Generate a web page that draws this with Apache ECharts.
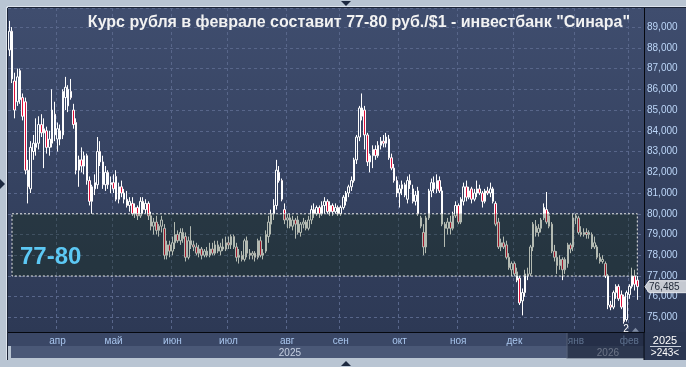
<!DOCTYPE html>
<html><head><meta charset="utf-8">
<script src="https://cdn.jsdelivr.net/npm/echarts@6/dist/echarts.min.js"></script>
<style>html,body{margin:0;padding:0;background:#b9c5d3}#c{width:686px;height:367px}</style>
</head><body><div id="c"></div>
<script>
const titleText = 'Курс рубля в феврале составит 77-80 руб./$1 - инвестбанк "Синара"';
const barCount = 238;
const monthLabels = ['апр','май','июн','июл','авг','сен','окт','ноя','дек','янв','фев'];
const monthStartIdx = [18,39,61,82,104,124,146,168,189,212,232];
const yearLabels = ['2025','2026'];
const yearLabelIdx = [105,224];
const year2026StartIdx = 209;
const zoneLow = 77, zoneHigh = 80, zoneLabel = '77-80';
const zoneStartIdx = 1, zoneEndIdx = 235;
const lastPrice = 76.485;
const lowMarkIdx = 230, lowMarkText = '2';
const cornerYear = '2025', cornerCount = '>243<';

const opens = [87.9,88.8,86.4,85.4,86.9,85.6,85.4,82.1,81.2,83.0,83.2,83.4,84.3,83.9,84.0,83.2,83.4,84.8,83.6,84.0,
83.8,85.6,85.2,85.9,85.0,84.4,82.1,82.6,82.3,82.8,81.6,80.6,81.2,81.4,83.0,82.5,81.4,82.0,81.4,81.5,
81.8,80.7,81.3,81.0,80.7,80.4,80.5,80.0,80.3,79.9,80.6,80.2,80.5,79.9,79.4,79.6,79.2,79.4,79.3,78.0,
78.5,78.2,78.6,79.0,78.7,79.1,78.9,77.9,78.7,78.5,78.4,78.1,78.3,78.0,78.2,78.0,78.3,78.1,78.5,78.2,
78.4,78.3,78.6,78.5,78.9,78.4,77.9,78.0,77.8,78.7,78.1,78.0,78.1,77.9,78.7,78.0,78.2,78.9,79.5,80.0,
80.4,82.0,81.6,80.2,79.7,79.8,79.4,79.7,79.7,79.1,79.5,79.6,79.3,79.7,80.2,80.0,80.3,80.0,80.4,80.6,
80.1,80.4,80.1,80.3,80.0,80.3,80.6,81.0,81.3,81.6,82.6,83.7,84.7,85.0,83.8,82.5,82.8,83.1,82.8,83.3,
83.5,83.4,83.6,82.7,82.2,81.6,81.0,81.2,81.4,80.7,81.6,81.2,80.6,81.1,79.4,79.1,78.4,79.8,81.1,81.5,
81.2,81.6,81.1,79.5,79.3,79.6,79.3,79.9,80.4,79.6,80.6,81.3,80.8,81.2,80.7,81.0,81.2,81.0,80.6,81.1,
81.0,81.2,80.5,79.6,78.4,78.6,78.5,77.9,77.3,77.6,77.2,76.9,75.8,76.2,77.1,77.1,78.4,79.4,79.1,79.3,
79.8,80.2,79.9,79.5,78.2,77.9,77.5,77.8,77.3,77.6,78.5,78.4,79.8,79.8,79.1,79.0,79.1,79.0,79.0,78.4,
78.4,77.9,77.7,77.6,77.0,75.6,75.5,76.2,76.5,76.1,76.0,74.9,76.1,76.5,77.0,76.8];
const highs = [89.3,89.0,86.8,87.0,87.0,85.8,85.6,82.6,83.5,83.8,84.6,84.7,84.8,84.6,84.2,84.0,86.0,85.4,84.4,84.3,
86.0,86.6,86.2,86.5,85.3,84.6,82.8,83.2,83.0,82.9,81.8,81.4,81.9,83.7,83.5,82.8,82.3,82.1,81.8,81.9,
82.1,81.5,81.6,81.2,81.1,80.8,80.8,80.5,80.4,80.8,80.8,80.7,80.6,80.1,79.8,79.9,79.5,79.9,79.5,78.7,
78.7,78.9,79.6,79.2,79.3,79.3,79.1,78.9,79.4,78.7,78.6,78.5,78.4,78.3,78.4,78.6,78.6,78.7,78.7,78.6,
78.8,78.9,78.9,79.0,79.0,78.6,78.3,78.2,78.8,78.9,78.3,78.2,78.2,78.8,78.9,78.3,79.2,79.9,80.2,80.7,
82.6,82.3,81.7,80.5,80.0,80.0,79.9,79.8,79.9,79.6,79.8,79.7,79.9,80.4,80.5,80.4,80.4,80.6,80.8,80.7,
80.6,80.5,80.5,80.4,80.4,80.9,81.1,81.4,81.8,82.7,83.8,85.2,85.8,85.2,83.9,82.9,83.3,83.3,83.5,83.7,
83.8,83.9,83.8,82.9,82.4,81.8,81.4,81.6,81.5,81.8,81.9,81.4,81.1,81.3,79.9,79.5,79.9,81.2,81.7,81.8,
81.9,81.8,81.3,79.6,79.8,79.9,80.1,80.6,80.5,80.8,81.5,81.6,81.3,81.3,81.2,81.6,81.4,81.1,81.2,81.3,
81.5,81.3,80.6,79.8,78.8,78.9,78.7,78.1,77.7,77.7,77.4,77.0,76.4,77.3,77.4,78.5,79.6,79.7,79.5,79.8,
80.5,81.05,80.1,79.6,78.5,78.2,78.0,77.9,77.9,78.6,78.6,80.0,80.0,79.9,79.4,79.3,79.3,79.2,79.1,78.9,
78.5,78.1,78.0,77.7,77.1,75.8,76.3,76.6,76.6,76.3,76.1,76.3,76.6,77.4,77.3,77.0];
const lows = [87.6,86.3,84.6,85.2,85.3,84.5,81.9,80.5,81.0,82.6,82.8,83.1,83.7,82.2,82.9,82.8,83.2,83.5,83.0,83.3,
83.6,85.0,84.9,85.5,84.1,81.9,81.3,82.0,81.9,81.4,80.4,80.0,80.9,81.2,82.3,81.2,81.1,81.2,81.0,81.0,
80.6,80.5,80.8,80.5,80.3,80.1,79.9,79.8,79.7,79.8,80.0,80.0,79.7,79.2,79.0,79.0,78.9,79.1,77.8,77.8,
77.9,78.0,78.3,78.6,78.5,78.6,77.7,77.8,78.3,78.2,78.0,77.9,77.8,77.9,77.9,77.9,78.0,78.0,78.1,78.0,
78.2,78.2,78.3,78.3,78.3,77.7,77.6,77.7,77.7,77.9,77.8,77.8,77.7,77.8,77.9,77.8,78.1,78.6,79.0,79.7,
80.2,81.5,80.6,79.5,79.3,79.3,79.2,78.8,79.0,78.9,79.3,79.2,79.2,79.5,79.8,79.9,79.8,79.9,80.0,80.0,
79.9,79.9,80.0,79.9,79.9,80.2,80.4,80.8,81.1,81.5,82.4,83.5,84.5,83.1,82.3,82.0,82.2,82.6,82.7,83.1,
83.2,83.2,82.6,82.1,81.5,80.8,80.3,80.9,80.8,80.5,81.2,80.5,80.4,79.9,79.3,78.0,78.1,79.7,80.8,81.0,
81.0,81.0,79.4,78.4,79.0,79.0,79.2,79.8,79.5,79.5,80.4,80.6,80.7,80.5,80.6,80.8,80.9,80.3,80.5,80.9,
80.8,80.5,79.4,78.3,78.2,78.3,77.8,77.3,77.0,77.0,76.7,75.6,75.1,76.0,76.8,77.0,78.2,78.9,78.9,79.1,
79.7,79.5,79.3,78.1,77.7,77.1,77.3,76.8,77.1,77.4,78.1,78.2,79.5,79.0,78.9,78.9,78.8,78.8,78.3,78.3,
77.8,77.6,77.6,76.9,75.4,75.35,75.4,75.9,75.8,75.4,74.7,74.8,75.9,76.4,76.3,75.85];
const closes = [88.8,86.5,85.0,86.6,85.5,84.7,82.1,81.3,83.2,83.4,83.4,84.3,83.9,84.1,83.2,83.6,85.0,83.8,84.1,83.6,
85.9,86.1,86.0,85.6,84.3,82.1,82.6,82.3,82.8,81.6,80.6,81.3,81.5,83.0,82.5,81.4,82.0,81.4,81.5,81.2,
80.7,81.3,81.0,80.7,80.4,80.6,80.0,80.3,79.9,80.6,80.2,80.5,79.9,79.4,79.6,79.2,79.4,79.7,78.0,78.5,
78.2,78.6,79.0,78.7,79.1,78.8,77.9,78.7,78.5,78.4,78.1,78.3,78.0,78.2,78.0,78.3,78.1,78.5,78.2,78.4,
78.3,78.6,78.5,78.9,78.4,77.9,78.0,77.8,78.7,78.1,78.0,78.1,77.9,78.7,78.0,78.1,79.0,79.6,80.0,80.4,
82.1,81.6,80.7,79.7,79.8,79.4,79.7,79.5,79.1,79.5,79.6,79.3,79.7,80.2,80.0,80.3,80.0,80.4,80.6,80.1,
80.4,80.1,80.3,80.0,80.3,80.8,81.0,81.3,81.6,82.6,83.7,85.1,85.1,83.8,82.5,82.8,83.1,82.8,83.3,83.5,
83.4,83.7,82.7,82.2,81.6,81.0,81.2,81.4,80.9,81.6,81.4,80.6,80.9,80.0,79.8,78.4,79.8,81.1,81.5,81.2,
81.6,81.1,79.5,79.3,79.6,79.3,79.9,80.4,79.6,80.7,81.3,80.8,81.1,80.7,81.0,81.2,81.0,80.6,81.1,81.0,
81.2,80.6,79.5,78.4,78.6,78.4,77.9,77.4,77.6,77.1,76.8,75.7,76.2,77.1,77.0,78.4,79.5,79.1,79.3,79.7,
80.3,79.6,79.4,78.2,77.9,77.5,77.8,77.3,77.8,78.5,78.3,79.8,79.9,79.1,79.0,79.1,79.0,79.1,78.4,78.6,
77.9,77.7,77.8,77.0,75.6,75.5,76.2,76.5,75.9,75.5,74.8,76.2,76.5,77.0,76.6,76.485];

const fmt = v => v.toFixed(3).replace('.', ',');
const categories = Array.from({length: barCount}, (_, i) => String(i));
const ohlc = opens.map((o, i) => [o, closes[i], lows[i], highs[i]]);
const FONT = 'Liberation Sans';

const chart = echarts.init(document.getElementById('c'), null, {renderer: 'canvas'});
chart.setOption({
  animation: false,
  backgroundColor: '#b9c5d3',
  textStyle: {fontFamily: FONT},
  title: {text: titleText, right: 56, top: 15, padding: 0,
    textStyle: {color: '#f2f2f2', fontSize: 16, fontWeight: 'bold', fontFamily: FONT}},
  grid: {left: 8, right: 42, top: 8, bottom: 35, containLabel: false},
  xAxis: [{
    type: 'category', data: categories, boundaryGap: true,
    axisLine: {show: true, lineStyle: {color: '#05080f', width: 1}},
    axisTick: {show: false},
    axisLabel: {interval: (i) => monthStartIdx.includes(i),
      formatter: (v) => monthLabels[monthStartIdx.indexOf(Number(v))] || '',
      color: '#a9c6ee', fontSize: 10, margin: 4},
    splitLine: {show: true, interval: (i) => monthStartIdx.includes(i),
      lineStyle: {color: '#58668a', type: [3, 3], width: 1}}
  }, {
    type: 'category', data: categories, boundaryGap: true, position: 'bottom', offset: 14,
    axisLine: {show: false}, axisTick: {show: false}, splitLine: {show: false},
    axisLabel: {interval: (i) => yearLabelIdx.includes(i),
      formatter: (v) => yearLabels[yearLabelIdx.indexOf(Number(v))] || '',
      color: '#c6d0e2', fontSize: 10, margin: 2}
  }],
  yAxis: {
    type: 'value', position: 'right', min: 74.3, max: 89.92, splitNumber: 15, scale: true,
    axisLine: {show: true, lineStyle: {color: '#05080f', width: 1}},
    axisTick: {show: false},
    axisLabel: {color: '#bcd6f8', fontSize: 10, margin: 3, showMinLabel: false, showMaxLabel: false,
      formatter: (v) => fmt(v)},
    splitLine: {show: true, lineStyle: {color: '#58668a', type: [3, 3], width: 1}}
  },
  series: [{
    type: 'candlestick', data: ohlc, barWidth: 2, z: 2,
    itemStyle: {color: 'rgba(0,0,0,0)', color0: '#e0103a', borderColor: '#ffffff', borderColor0: '#ffffff', borderWidth: 1}
  }, {
    type: 'custom', z: 5, silent: true,
    data: [[zoneStartIdx, zoneEndIdx, zoneLow, zoneHigh]],
    encode: {x: [0, 1], y: [2, 3]},
    renderItem: (params, api) => {
      const p1 = api.coord([api.value(0), api.value(3)]);
      const p2 = api.coord([api.value(1), api.value(2)]);
      const shape = {x: p1[0], y: p1[1], width: p2[0] - p1[0], height: p2[1] - p1[1]};
      return {type: 'group', children: [
        {type: 'rect', shape, style: {fill: 'rgba(12,34,8,0.31)'}},
        {type: 'rect', shape, style: {fill: null, stroke: '#e8e8e8', lineWidth: 1, lineDash: [2, 2]}},
        {type: 'text', style: {text: zoneLabel, x: p1[0] + 8, y: (p1[1] + p2[1]) / 2 + 12,
          verticalAlign: 'middle', fill: '#5cc8f4', font: 'bold 24px "' + FONT + '"'}}
      ]};
    }
  }, {
    type: 'custom', z: 10, silent: true, clip: false,
    data: [[ohlc.length - 1, lastPrice]],
    encode: {x: 0, y: 1},
    renderItem: (params, api) => {
      const pt = api.coord([api.value(0), api.value(1)]);
      const cs = params.coordSys;
      const x0 = cs.x + cs.width, y = pt[1];
      return {type: 'group', children: [
        {type: 'polygon', shape: {points: [[x0 + 1, y], [x0 + 5, y - 6], [x0 + 43, y - 6], [x0 + 43, y + 6], [x0 + 5, y + 6]]},
          style: {fill: '#c5c9d1', stroke: '#e6e8ec', lineWidth: 1}},
        {type: 'text', style: {text: fmt(api.value(1)), x: x0 + 5, y: y + 0.5, verticalAlign: 'middle',
          fill: '#232b3a', font: '10px "' + FONT + '"'}}
      ]};
    }
  }]
});

const xc = (i) => chart.convertToPixel({xAxisIndex: 0}, String(i));
const band = xc(1) - xc(0);
const gx0 = xc(0) - band / 2;
const gx1 = gx0 + band * barCount;
const gyTop = chart.convertToPixel({yAxisIndex: 0}, 89.92);
const gyBot = chart.convertToPixel({yAxisIndex: 0}, 74.3);
const x26 = xc(year2026StartIdx) - band / 2;
const lowPt = chart.convertToPixel({xAxisIndex: 0, yAxisIndex: 0}, [String(lowMarkIdx), lows[lowMarkIdx]]);

chart.setOption({graphic: [
  {type: 'rect', z: -100, shape: {x: gx0, y: gyTop, width: 686 - gx0, height: gyBot - gyTop},
    style: {fill: new echarts.graphic.LinearGradient(0, 0, 0, 1, [{offset: 0, color: '#3f4d6e'}, {offset: 1, color: '#2d3955'}])}},
  {type: 'rect', z: -100, shape: {x: gx0, y: gyBot, width: gx1 - gx0, height: 14}, style: {fill: '#3a4766'}},
  {type: 'rect', z: -100, shape: {x: gx0 + 3, y: gyBot + 14, width: gx1 - gx0 - 3, height: 12}, style: {fill: '#4a5877'}},
  {type: 'rect', z: -100, shape: {x: gx1, y: gyBot, width: 686 - gx1, height: 28}, style: {fill: '#2b3752'}},
  {type: 'line', z: 20, shape: {x1: gx0 - 0.5, y1: gyTop, x2: gx0 - 0.5, y2: gyBot + 28}, style: {stroke: '#1b2437', lineWidth: 1}},
  {type: 'line', z: 20, shape: {x1: gx0, y1: gyTop - 0.5, x2: 686, y2: gyTop - 0.5}, style: {stroke: '#1b2437', lineWidth: 1}},
  {type: 'line', z: 20, shape: {x1: gx0 - 1.5, y1: gyTop - 1, x2: gx0 - 1.5, y2: gyBot + 28}, style: {stroke: '#dde4ee', lineWidth: 1}},
  {type: 'line', z: 20, shape: {x1: gx0 - 1, y1: gyTop - 1.5, x2: 686, y2: gyTop - 1.5}, style: {stroke: '#dde4ee', lineWidth: 1}},
  {type: 'line', z: 20, shape: {x1: gx1, y1: gyBot, x2: gx1, y2: gyBot + 28}, style: {stroke: '#05080f', lineWidth: 1}},
  {type: 'rect', z: 50, shape: {x: x26, y: gyBot + 0.5, width: gx1 - x26, height: 26}, style: {fill: 'rgba(16,24,42,0.5)'}},
  {type: 'line', z: 51, shape: {x1: x26 + 0.5, y1: gyBot + 1, x2: x26 + 0.5, y2: gyBot + 26}, style: {stroke: 'rgba(150,165,190,0.45)', lineWidth: 1}},
  {type: 'text', z: 60, style: {text: cornerYear, x: 665, y: gyBot + 8.5, align: 'center', verticalAlign: 'middle', fill: '#ffffff', font: '11px "' + FONT + '"'}},
  {type: 'line', z: 60, shape: {x1: 650, y1: gyBot + 14.5, x2: 681, y2: gyBot + 14.5}, style: {stroke: '#c8d0dc', lineWidth: 1}},
  {type: 'text', z: 60, style: {text: cornerCount, x: 665, y: gyBot + 21, align: 'center', verticalAlign: 'middle', fill: '#ffffff', font: '10px "' + FONT + '"'}},
  {type: 'polygon', z: 60, shape: {points: [[341, 1], [351, 1], [346, 6]]}, style: {fill: '#1d2940'}},
  {type: 'polygon', z: 60, shape: {points: [[341, 366], [351, 366], [346, 361]]}, style: {fill: '#1d2940'}},
  {type: 'polygon', z: 60, shape: {points: [[0, 179], [0, 189], [5, 184]]}, style: {fill: '#1d2940'}},
  {type: 'text', z: 60, style: {text: lowMarkText, x: lowPt[0] + 2, y: lowPt[1] + 1, align: 'center', verticalAlign: 'top', fill: '#ffffff', font: '10px "' + FONT + '"'}},
  {type: 'polygon', z: 60, shape: {points: [[lowPt[0] + 8, lowPt[1] + 8], [lowPt[0] + 15, lowPt[1] + 8], [lowPt[0] + 11.5, lowPt[1] + 4]]}, style: {fill: '#7d8aa2'}}
]});
</script></body></html>
